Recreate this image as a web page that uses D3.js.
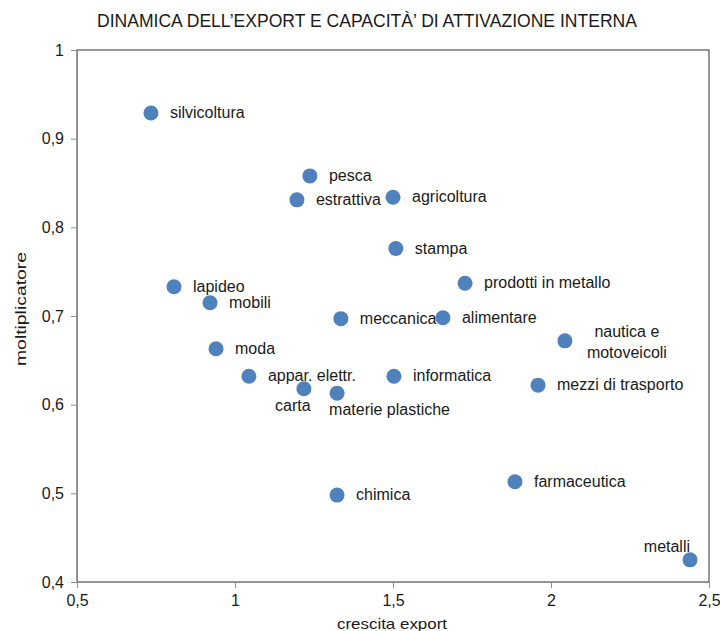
<!DOCTYPE html>
<html>
<head>
<meta charset="utf-8">
<script src="https://cdn.jsdelivr.net/npm/d3@7"></script>
<style>
  body { margin: 0; background: #fff; }
  svg text { font-family: "Liberation Sans Narrow", "Arial Narrow", "Liberation Sans", sans-serif; fill: #1a1a1a; }
</style>
</head>
<body>
<svg id="chart" width="720" height="631"></svg>
<script>
// settori, crescita export (x) e moltiplicatore (y)
const sectors = ["silvicoltura", "pesca", "estrattiva", "agricoltura", "stampa",
  "prodotti in metallo", "lapideo", "mobili", "meccanica", "alimentare",
  "nautica e motoveicoli", "moda", "appar. elettr.", "informatica",
  "mezzi di trasporto", "carta", "materie plastiche", "chimica",
  "farmaceutica", "metalli"];
const exportGrowth = [0.734, 1.237, 1.196, 1.500, 1.509, 1.728, 0.807, 0.921,
  1.335, 1.658, 2.044, 0.940, 1.044, 1.503, 1.959, 1.218, 1.323, 1.323,
  1.886, 2.440];
const multiplier = [0.929, 0.858, 0.831, 0.834, 0.776, 0.737, 0.733, 0.715,
  0.697, 0.698, 0.672, 0.663, 0.632, 0.632, 0.622, 0.618, 0.613, 0.498,
  0.513, 0.425];
const xTicks = [0.5, 1, 1.5, 2, 2.5];
const yTicks = [0.4, 0.5, 0.6, 0.7, 0.8, 0.9, 1];

// where each label sits relative to its dot
const placement = {
  "carta": "below",
  "materie plastiche": "belowRight",
  "metalli": "aboveLeft",
  "nautica e motoveicoli": "twoLines"
};

const margin = { top: 50, right: 11, bottom: 49, left: 77 };
const W = 720, H = 631;
const w = W - margin.left - margin.right;
const h = H - margin.top - margin.bottom;

const fmt = d => String(d).replace(".", ",");

const svg = d3.select("#chart");

svg.append("text")
  .attr("x", 97).attr("y", 27)
  .attr("textLength", 540).attr("lengthAdjust", "spacingAndGlyphs")
  .style("font-size", "17.5px")
  .text("DINAMICA DELL\u2019EXPORT E CAPACIT\u00C0\u2019 DI ATTIVAZIONE INTERNA");

const g = svg.append("g").attr("transform", `translate(${margin.left},${margin.top})`);

const x = d3.scaleLinear().domain([0.5, 2.5]).range([0, w]);
const y = d3.scaleLinear().domain([0.4, 1]).range([h, 0]);

// frame (top / right)
g.append("rect")
  .attr("width", w).attr("height", h)
  .attr("fill", "none").attr("stroke", "#333").attr("stroke-width", 1);

const xAxis = g.append("g")
  .attr("transform", `translate(0,${h})`)
  .call(d3.axisBottom(x).tickValues(xTicks).tickFormat(fmt).tickSizeOuter(0).tickSize(6).tickPadding(7));
const yAxis = g.append("g")
  .call(d3.axisLeft(y).tickValues(yTicks).tickFormat(fmt).tickSizeOuter(0).tickSize(6).tickPadding(7));

[xAxis, yAxis].forEach(a => {
  a.select(".domain").attr("stroke", "#8c8c8c");
  a.selectAll(".tick line").attr("stroke", "#8c8c8c");
  a.selectAll(".tick text")
    .style("font-size", "16px")
    .style("font-family", "'Liberation Sans Narrow', 'Arial Narrow', sans-serif")
    .attr("fill", "#333");
});

svg.append("text")
  .attr("transform", "translate(26,366) rotate(-90)")
  .attr("textLength", 114).attr("lengthAdjust", "spacingAndGlyphs")
  .style("font-size", "15px")
  .text("moltiplicatore");

svg.append("text")
  .attr("x", 337).attr("y", 629)
  .attr("textLength", 110).attr("lengthAdjust", "spacingAndGlyphs")
  .style("font-size", "15px")
  .text("crescita export");

const data = sectors.map((s, i) => ({ name: s, x: exportGrowth[i], y: multiplier[i] }));

g.selectAll("circle")
  .data(data)
  .join("circle")
  .attr("cx", d => x(d.x))
  .attr("cy", d => y(d.y))
  .attr("r", 7.5)
  .attr("fill", "#4f81bd");

const labels = g.selectAll("text.lbl")
  .data(data)
  .join("text")
  .attr("class", "lbl")
  .style("font-size", "16px")
  .attr("x", d => x(d.x))
  .attr("y", d => y(d.y));

labels.each(function(d) {
  const t = d3.select(this);
  const p = placement[d.name] || "right";
  if (p === "right") {
    t.attr("dx", 19).attr("dy", 5).text(d.name);
  } else if (p === "below") {
    t.attr("text-anchor", "middle").attr("dx", -11).attr("dy", 22).text(d.name);
  } else if (p === "belowRight") {
    t.attr("dx", -8).attr("dy", 22).text(d.name);
  } else if (p === "aboveLeft") {
    t.attr("text-anchor", "end").attr("dy", -8).text(d.name);
  } else if (p === "twoLines") {
    const parts = ["nautica e", "motoveicoli"];
    t.attr("text-anchor", "middle");
    t.selectAll("tspan").data(parts).join("tspan")
      .attr("x", x(d.x) + 62)
      .attr("y", (s, i) => y(d.y) - 4 + i * 21)
      .text(s => s);
  }
});
</script>
</body>
</html>
